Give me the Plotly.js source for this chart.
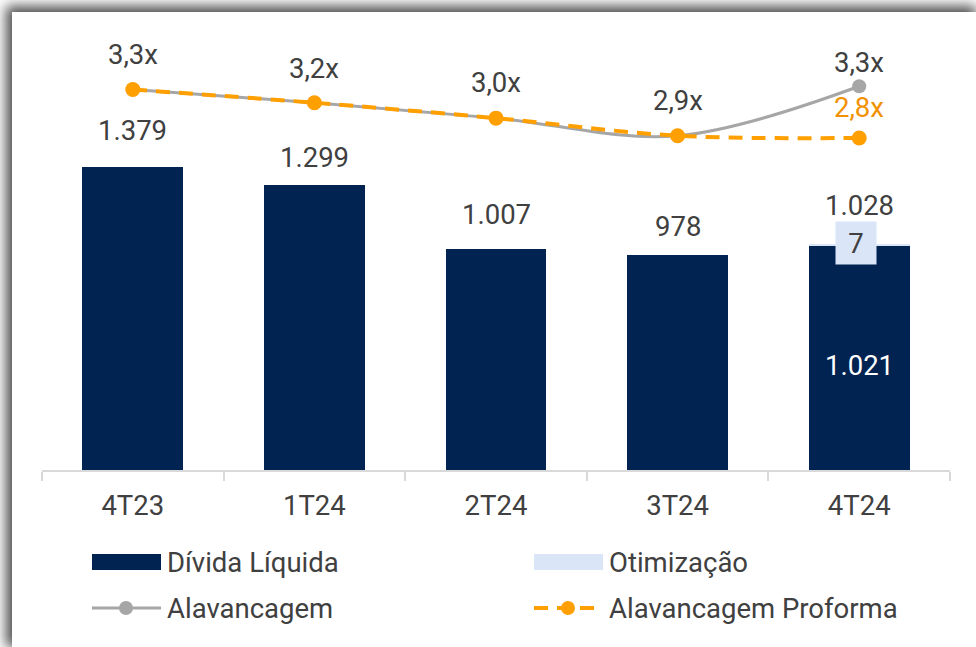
<!DOCTYPE html>
<html>
<head>
<meta charset="utf-8">
<script src="https://cdn.plot.ly/plotly-3.0.1.min.js"></script>
<style>
  html, body { margin: 0; padding: 0; background: #fff; overflow: hidden; }
  #plotArea {
    position: absolute; left: 12px; top: 12px; width: 964px; height: 635px;
    background: #fff;
    box-shadow: -3px -3px 12px 3px rgba(0,0,0,0.7);
  }
</style>
</head>
<body>
<div id="plotArea"></div>
<script>
// Data
var quarters = ["4T23", "1T24", "2T24", "3T24", "4T24"];
var dividaLiquida = [1379, 1299, 1007, 978, 1021];
var otimizacao = [0, 0, 0, 0, 7];
var alavancagem = [3.28, 3.16, 3.02, 2.86, 3.31];
var alavancagemProforma = [3.28, 3.16, 3.02, 2.86, 2.84];

// label offsets (px above point)
var totalShift = [37, 27, 34, 29, 39];
var levShift = [35, 34, 36, 35, 24];

var txt = "#404040";
var navy = "#002352";
var light = "#dae6f8";
var grey = "#a6a6a6";
var orange = "#ff9f00";
var F = "Roboto, sans-serif";
var FS = 27.5;

function fmtInt(v) { return String(v).replace(/\B(?=(\d{3})+(?!\d))/g, "."); }
function fmtLev(v) { return v.toFixed(1).replace(".", ",") + "x"; }

var traces = [
  {
    x: quarters, y: dividaLiquida, type: "bar", name: "Dívida Líquida",
    marker: { color: navy }, hoverinfo: "skip"
  },
  {
    x: quarters, y: otimizacao, type: "bar", name: "Otimização",
    marker: { color: light }, hoverinfo: "skip"
  },
  {
    x: quarters, y: alavancagem, type: "scatter", mode: "lines+markers", name: "Alavancagem",
    yaxis: "y2", line: { color: grey, width: 3, shape: "spline" },
    marker: { color: grey, size: 14 }, hoverinfo: "skip"
  },
  {
    x: quarters, y: alavancagemProforma, type: "scatter", mode: "lines+markers", name: "Alavancagem Proforma",
    yaxis: "y2", line: { color: orange, width: 4, dash: "14px,9px", shape: "spline" },
    marker: { color: orange, size: 15 }, hoverinfo: "skip"
  }
];

var ann = [];
quarters.forEach(function (q, i) {
  var total = dividaLiquida[i] + otimizacao[i];
  ann.push({ x: q, y: total, xref: "x", yref: "y", text: fmtInt(total), showarrow: false,
    yshift: totalShift[i], font: { family: F, size: FS, color: txt } });
  ann.push({ x: q, y: alavancagem[i], xref: "x", yref: "y2", text: fmtLev(alavancagem[i]), showarrow: false,
    yshift: levShift[i], font: { family: F, size: FS, color: txt } });
  if (otimizacao[i] > 0) {
    // inside label for the debt bar, and boxed label for the small segment
    ann.push({ x: q, y: dividaLiquida[i] / 2, xref: "x", yref: "y", text: fmtInt(dividaLiquida[i]),
      showarrow: false, yshift: -8, font: { family: F, size: FS, color: "#fff" } });
    ann.push({ x: q, y: dividaLiquida[i] + otimizacao[i] / 2, xref: "x", yref: "y", text: String(otimizacao[i]),
      showarrow: false, bgcolor: light, width: 40, height: 42, borderpad: 0, yshift: 2, xshift: -3,
      font: { family: F, size: FS, color: txt } });
  }
});
var last = quarters.length - 1;
ann.push({ x: quarters[last], y: alavancagemProforma[last], xref: "x", yref: "y2",
  text: fmtLev(alavancagemProforma[last]), showarrow: false, yshift: 30,
  font: { family: F, size: FS, color: "#f29100" } });

// Legend (drawn by hand: wide swatches)
function py(p) { return (470 - p) / 448; }
function px(p) { return (p - 42) / 908; }
var legendItems = [
  { label: "Dívida Líquida", x: 92, y: 562, kind: "box", color: navy },
  { label: "Otimização", x: 534, y: 562, kind: "box", color: light },
  { label: "Alavancagem", x: 92, y: 608, kind: "line", color: grey },
  { label: "Alavancagem Proforma", x: 534, y: 608, kind: "dash", color: orange }
];
var shapes = [];
legendItems.forEach(function (it) {
  if (it.kind === "box") {
    shapes.push({ type: "rect", xref: "paper", yref: "paper", x0: px(it.x), x1: px(it.x + 69),
      y0: py(it.y + 8), y1: py(it.y - 8), fillcolor: it.color, line: { width: 0 } });
  } else {
    shapes.push({ type: "line", xref: "paper", yref: "paper", x0: px(it.x), x1: px(it.x + 69),
      y0: py(it.y), y1: py(it.y),
      line: { color: it.color, width: it.kind === "dash" ? 4 : 3, dash: it.kind === "dash" ? "14px,9px" : "solid" } });
    shapes.push({ type: "circle", xref: "paper", yref: "paper", xsizemode: "pixel", ysizemode: "pixel",
      xanchor: px(it.x + 34), yanchor: py(it.y), x0: -7, x1: 7, y0: -7, y1: 7,
      fillcolor: it.color, line: { width: 0 } });
  }
  ann.push({ x: px(it.x + 73), y: py(it.y), xref: "paper", yref: "paper", xanchor: "left", yanchor: "middle",
    text: it.label, showarrow: false, font: { family: F, size: FS, color: txt } });
});

var layout = {
  width: 964, height: 635,
  margin: { l: 30, r: 26, t: 10, b: 177 },
  paper_bgcolor: "#fff", plot_bgcolor: "#fff",
  separators: ",.",
  barmode: "stack", bargap: 0.445,
  showlegend: false,
  font: { family: F, color: txt },
  xaxis: {
    type: "category", showline: true, linecolor: "#d9d9d9", linewidth: 2,
    ticks: "outside", tickson: "boundaries", ticklen: 9, tickcolor: "#d9d9d9", tickwidth: 2,
    ticklabelstandoff: 10,
    tickfont: { family: F, size: FS, color: txt }, showgrid: false, zeroline: false
  },
  yaxis: { range: [0, 2040], visible: false, showgrid: false, zeroline: false },
  yaxis2: { range: [-0.179, 3.894], overlaying: "y", visible: false, showgrid: false, zeroline: false },
  annotations: ann,
  shapes: shapes
};

Plotly.newPlot("plotArea", traces, layout, { displayModeBar: false, staticPlot: true });
</script>
</body>
</html>
